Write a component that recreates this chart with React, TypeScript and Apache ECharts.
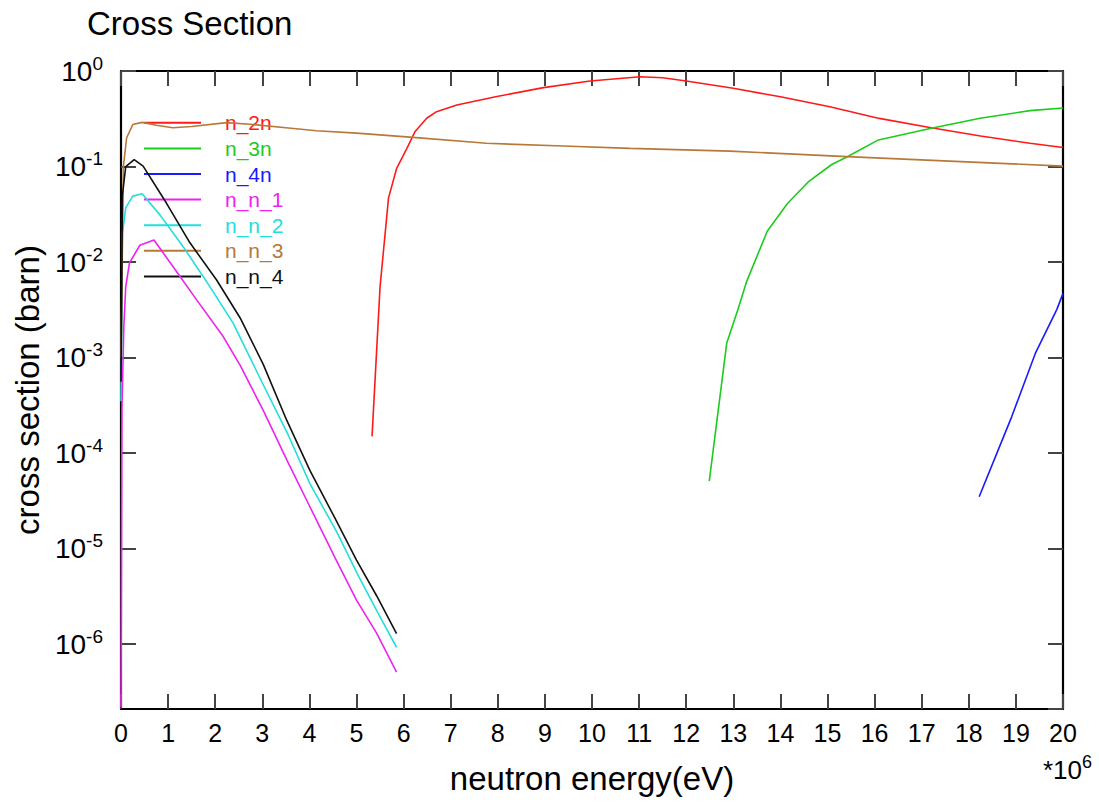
import React, { useEffect, useRef } from "react";
import * as echarts from "echarts";

// energies in MeV (axis labelled *10^6 eV), cross sections in barn
const seriesNames = ["n_2n", "n_3n", "n_4n", "n_n_1", "n_n_2", "n_n_3", "n_n_4"];
const seriesColors = ["#ff1a1a", "#1ccc1c", "#1a1aff", "#ee22ee", "#22dede", "#b87838", "#111111"];

const E_n2n = [5.33, 5.5, 5.68, 5.85, 6.07, 6.24, 6.49, 6.7, 7.13, 7.98, 8.97, 9.96, 11.02, 11.5, 12.0, 13.0, 14.0, 15.05, 16.1, 17.2, 18.25, 19.3, 20.0];
const V_n2n = [1.5e-4, 5.5e-3, 4.7e-2, 9.5e-2, 0.155, 0.231, 0.32, 0.375, 0.44, 0.54, 0.67, 0.785, 0.87, 0.85, 0.785, 0.66, 0.537, 0.423, 0.319, 0.255, 0.209, 0.175, 0.158];

const E_n3n = [12.49, 12.86, 13.1, 13.28, 13.72, 14.15, 14.59, 15.09, 15.41, 16.08, 17.18, 18.24, 19.3, 20.0];
const V_n3n = [5.1e-5, 1.41e-3, 3.2e-3, 6.2e-3, 2.1e-2, 4.1e-2, 6.9e-2, 0.105, 0.126, 0.19, 0.25, 0.32, 0.385, 0.41];

const E_n4n = [18.22, 18.91, 19.41, 19.87, 20.0];
const V_n4n = [3.5e-5, 2.4e-4, 1.1e-3, 3.2e-3, 4.7e-3];

const E_nn1 = [0.0, 0.02, 0.06, 0.1, 0.18, 0.4, 0.7, 1.11, 1.61, 2.17, 2.53, 3.02, 3.52, 4.01, 4.54, 5.0, 5.43, 5.85];
const V_nn1 = [2.2e-7, 3e-4, 2.1e-3, 5.5e-3, 9.8e-3, 1.5e-2, 1.7e-2, 8.9e-3, 4.0e-3, 1.66e-3, 8.3e-4, 2.8e-4, 8.5e-5, 2.75e-5, 8.1e-6, 2.9e-6, 1.3e-6, 5.1e-7];

const E_nn2 = [0.0, 0.03, 0.1, 0.25, 0.45, 0.83, 1.32, 1.89, 2.38, 2.88, 3.02, 3.55, 4.01, 4.58, 5.04, 5.46, 5.85];
const V_nn2 = [3.5e-4, 2.0e-2, 3.7e-2, 4.9e-2, 5.2e-2, 3.1e-2, 1.45e-2, 5.5e-3, 2.3e-3, 7.2e-4, 5.2e-4, 1.55e-4, 4.8e-5, 1.5e-5, 5.2e-6, 2.1e-6, 9.3e-7];

const E_nn3 = [0.0, 0.05, 0.12, 0.25, 0.45, 0.75, 1.1, 1.5, 2.24, 2.74, 3.5, 4.15, 5.0, 6.2, 7.76, 9.39, 10.81, 12.93, 15.41, 20.0];
const V_nn3 = [1e-3, 0.1, 0.2, 0.275, 0.29, 0.27, 0.255, 0.262, 0.288, 0.277, 0.255, 0.237, 0.224, 0.202, 0.175, 0.164, 0.155, 0.145, 0.127, 0.101];

const E_nn4 = [0.0, 0.03, 0.1, 0.28, 0.47, 0.97, 1.46, 2.03, 2.53, 3.02, 3.52, 4.01, 4.54, 5.0, 5.43, 5.85];
const V_nn4 = [5.6e-4, 5e-2, 0.1, 0.118, 0.101, 4.1e-2, 1.6e-2, 6.5e-3, 2.6e-3, 8.5e-4, 2.2e-4, 6.6e-5, 2.1e-5, 7.6e-6, 3.2e-6, 1.29e-6];

const energies = [E_n2n, E_n3n, E_n4n, E_nn1, E_nn2, E_nn3, E_nn4];
const values = [V_n2n, V_n3n, V_n4n, V_nn1, V_nn2, V_nn3, V_nn4];

const X_MIN = 0;
const X_MAX = 20;
const Y_MIN = 2.1e-7;
const Y_MAX = 1;

const FONT = "Liberation Sans, Arial, Helvetica, sans-serif";

export default function App() {
  const ref = useRef<HTMLDivElement>(null);
  useEffect(() => {
    if (!ref.current) return;
    const chart = echarts.init(ref.current, undefined, { renderer: "svg" });

    const tickStyle = { color: "#444", width: 2 };
    const axisLineStyle = { color: "#000", width: 2.2 };

    const yLabelFormatter = (v: number) => {
      const e = Math.log10(v);
      const r = Math.round(e);
      if (Math.abs(e - r) > 1e-6) return "";
      return `{b|10}{s|${r}}`;
    };

    const series = seriesNames.map((name, i) => ({
      name,
      type: "line",
      data: energies[i].map((x, j) => [x, values[i][j]]),
      showSymbol: false,
      symbol: "none",
      color: seriesColors[i],
      lineStyle: { width: 1.6, color: seriesColors[i] },
      z: 3 + i,
    }));

    chart.setOption({
      animation: false,
      backgroundColor: "#fff",
      textStyle: { fontFamily: FONT },
      title: {
        text: "Cross Section",
        left: 87,
        top: 7,
        padding: 0,
        textStyle: { fontSize: 33, fontWeight: "normal", color: "#000", fontFamily: FONT },
      },
      grid: { left: 121, right: 36, top: 71, bottom: 93, containLabel: false },
      legend: {
        orient: "vertical",
        left: 144,
        top: 110,
        padding: 0,
        itemWidth: 57,
        itemHeight: 2,
        itemGap: 0,
        icon: "rect",
        selectedMode: false,
        textStyle: { fontSize: 21, lineHeight: 25.6, fontFamily: FONT, padding: [0, 0, 0, 19] },
        data: seriesNames.map((n, i) => ({ name: n, textStyle: { color: seriesColors[i] } })),
      },
      xAxis: [
        {
          type: "value",
          min: X_MIN,
          max: X_MAX,
          interval: 1,
          name: "neutron energy(eV)",
          nameLocation: "middle",
          nameGap: 53,
          nameTextStyle: { fontSize: 33, color: "#000", fontFamily: FONT },
          axisLine: { show: true, onZero: false, lineStyle: axisLineStyle },
          axisTick: { show: true, inside: true, length: 15, lineStyle: tickStyle },
          axisLabel: { fontSize: 25, color: "#000", margin: 11, fontFamily: FONT },
          splitLine: { show: false },
        },
        {
          type: "value",
          position: "top",
          min: X_MIN,
          max: X_MAX,
          interval: 1,
          axisLine: { show: true, onZero: false, lineStyle: axisLineStyle },
          axisTick: { show: true, inside: true, length: 15, lineStyle: tickStyle },
          axisLabel: { show: false },
          splitLine: { show: false },
        },
      ],
      yAxis: [
        {
          type: "log",
          logBase: 10,
          min: Y_MIN,
          max: Y_MAX,
          name: "cross section (barn)",
          nameLocation: "middle",
          nameGap: 71,
          nameTextStyle: { fontSize: 33, color: "#000", fontFamily: FONT },
          axisLine: { show: true, onZero: false, lineStyle: axisLineStyle },
          axisTick: { show: true, inside: true, length: 15, lineStyle: tickStyle },
          axisLabel: {
            margin: 18,
            formatter: yLabelFormatter,
            showMinLabel: false,
            rich: {
              b: { fontSize: 28, color: "#000", fontFamily: FONT },
              s: { fontSize: 19, color: "#000", fontFamily: FONT, padding: [0, 0, 16, 0] },
            },
          },
          splitLine: { show: false },
          minorTick: { show: false },
        },
        {
          type: "log",
          logBase: 10,
          position: "right",
          min: Y_MIN,
          max: Y_MAX,
          axisLine: { show: true, onZero: false, lineStyle: axisLineStyle },
          axisTick: { show: true, inside: true, length: 15, lineStyle: tickStyle },
          axisLabel: { show: false },
          splitLine: { show: false },
        },
      ],
      graphic: [
        {
          type: "text",
          x: 1043,
          y: 770,
          style: {
            text: "{a|*10}{s|6}",
            verticalAlign: "middle",
            align: "left",
            rich: {
              a: { fontSize: 26, fill: "#000", fontFamily: FONT },
              s: { fontSize: 18, fill: "#000", fontFamily: FONT, padding: [0, 0, 16, 0] },
            },
          },
        },
      ],
      series,
    });

    return () => chart.dispose();
  }, []);

  return (
    <div
      ref={ref}
      style={{ position: "fixed", left: 0, top: 0, width: 1099, height: 802, background: "#fff" }}
    />
  );
}
